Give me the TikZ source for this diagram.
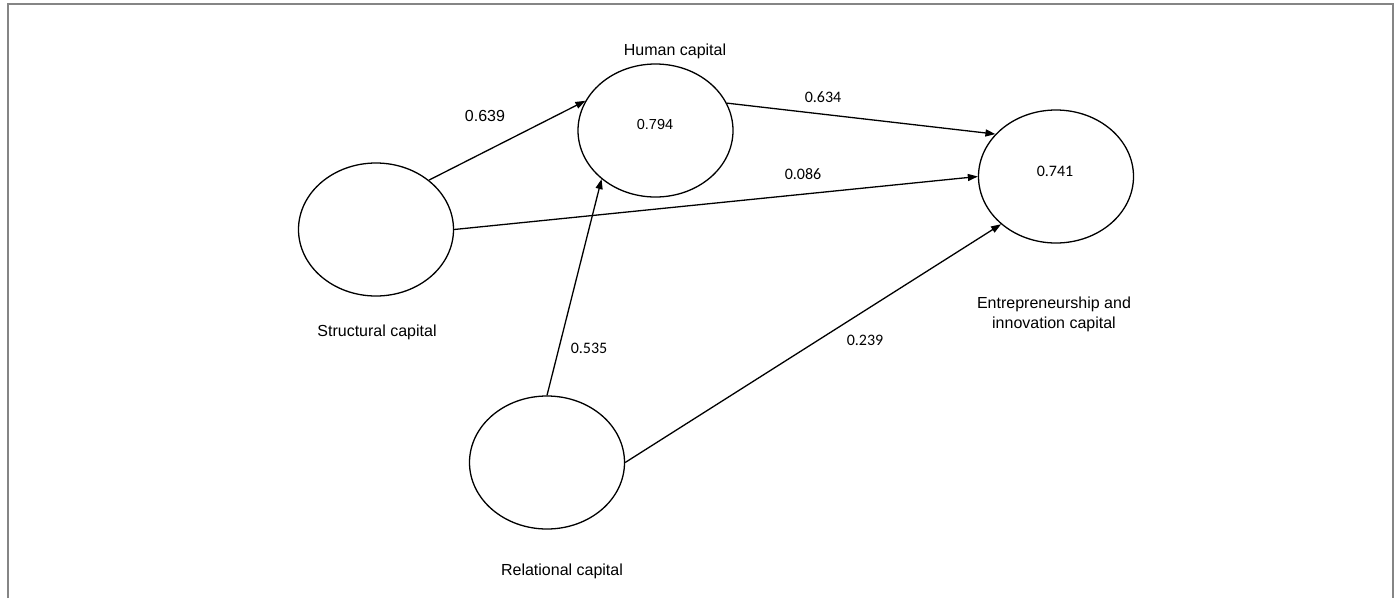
\documentclass[tikz,border=0pt]{standalone}
\usepackage{fontspec}
\setmainfont{Liberation Sans}
\newfontfamily\calib{Carlito}
\usetikzlibrary{shapes.geometric,arrows.meta}
\definecolor{framegray}{HTML}{858585}
\tikzset{
  latent/.style={ellipse,draw=black,line width=1.3pt,minimum width=155pt,minimum height=133pt,inner sep=0pt},
  varlbl/.style={font=\fontsize{16}{20}\selectfont,align=center,inner sep=0pt},
  coef/.style={font=\calib\fontsize{16}{20}\selectfont,inner sep=0pt},
  coefa/.style={font=\fontsize{16}{20}\selectfont,inner sep=0pt},
  pathline/.style={line width=1.3pt,-{Triangle[length=10pt,width=7pt]}}
}
\begin{document}
\begin{tikzpicture}[x=1pt,y=-1pt]
\useasboundingbox (0,0) rectangle (1397,598);
\coordinate (fbl) at (8,598);
\coordinate (ftl) at (8,3.5);
\coordinate (ftr) at (1393,3.5);
\coordinate (fbr) at (1393,598);
\draw[framegray,line width=2pt] (fbl) -- (ftl) -- (ftr) -- (fbr);

\node[latent] (human) at (655.5,130.5) {};
\node[latent] (struct) at (376,229.5) {};
\node[latent] (ent) at (1056,176.5) {};
\node[latent] (rel) at (547,462.5) {};

\node[varlbl] (humanlbl) at (675,51) {Human capital};
\node[varlbl] (structlbl) at (377,332) {Structural capital};
\node[varlbl] (entlbl) at (1054,314) {Entrepreneurship and\\innovation capital};
\node[varlbl] (rellbl) at (562,571) {Relational capital};

\node[coefa,font=\fontsize{14.5}{18}\selectfont] (r2human) at (655,125) {0.794};
\node[coef] (r2ent) at (1055,171) {0.741};

\draw[pathline] (struct.43.5) -- (human.157.6);
\draw[pathline] (struct.0) -- (ent.180);
\draw[pathline] (human.21.7) -- (ent.145);
\draw[pathline] (rel.90) -- (human.222.8);
\draw[pathline] (rel.0) -- (ent.221.5);

\node[coefa] (c639) at (485,116) {0.639};
\node[coef] (c634) at (823,97) {0.634};
\node[coef] (c086) at (803,174) {0.086};
\node[coef] (c239) at (865,340) {0.239};
\node[coef] (c535) at (589,348) {0.535};
\end{tikzpicture}
\end{document}
